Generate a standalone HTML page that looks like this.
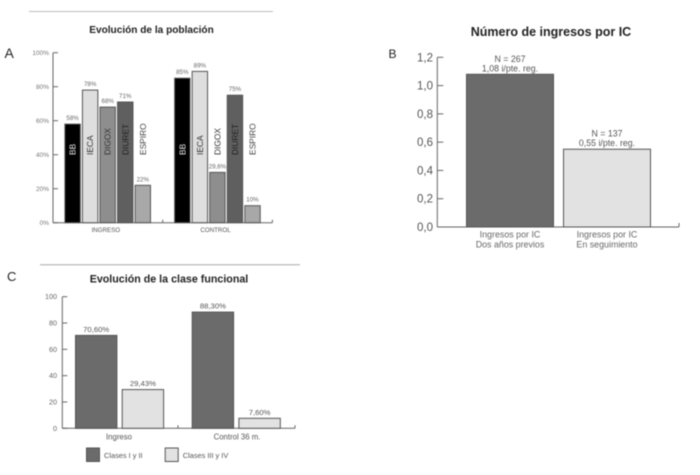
<!DOCTYPE html>
<html>
<head>
<meta charset="utf-8">
<style>
html,body{margin:0;padding:0;background:#fff;width:700px;height:475px;overflow:hidden}
svg{display:block;filter:blur(0.45px)}
text{font-family:"Liberation Sans",sans-serif}
</style>
</head>
<body>
<svg id="chart" xmlns="http://www.w3.org/2000/svg" width="700" height="475" viewBox="0 0 700 475"></svg>
<script>
/* Panel A data */
var popGroups = ['INGRESO', 'CONTROL'];
var popSeries = ['BB', 'IECA', 'DIGOX', 'DIURET', 'ESPIRO'];
var popIngreso = [58, 78, 68, 71, 22];
var popControl = [85, 89, 29.6, 75, 10];
var popIngresoLabels = ['58%', '78%', '68%', '71%', '22%'];
var popControlLabels = ['85%', '89%', '29,6%', '75%', '10%'];
var popTicks = [0, 20, 40, 60, 80, 100];
/* Panel B data */
var admCategories = [['Ingresos por IC', 'Dos años previos'], ['Ingresos por IC', 'En seguimiento']];
var admValues = [1.08, 0.55];
var admNotes = [['N = 267', '1,08 i/pte. reg.'], ['N = 137', '0,55 i/pte. reg.']];
var admTicks = [0, 0.2, 0.4, 0.6, 0.8, 1.0, 1.2];
/* Panel C data */
var classGroups = ['Ingreso', 'Control 36 m.'];
var classSeries = ['Clases I y II', 'Clases III y IV'];
var classLow = [70.6, 88.3];
var classHigh = [29.43, 7.6];
var classLowLabels = ['70,60%', '88,30%'];
var classHighLabels = ['29,43%', '7,60%'];
var classTicks = [0, 20, 40, 60, 80, 100];

var NS = 'http://www.w3.org/2000/svg';
var root = document.getElementById('chart');
function mk(tag, attrs, parent, txt) {
  var e = document.createElementNS(NS, tag);
  for (var k in attrs) e.setAttribute(k, attrs[k]);
  if (txt !== undefined) e.textContent = txt;
  (parent || root).appendChild(e);
  return e;
}
function label(parent, name, x, y, size, fill, anchor, str, weight) {
  var t = mk('text', {x: x, y: y, 'font-size': size, fill: fill, 'text-anchor': anchor, 'font-weight': weight || 'normal'}, parent, str);
  
  
  return t;
}
function bar(parent, name, x, y, w, h, fill, stroke) {
  var r = mk('rect', {x: x + 0.5, y: y, width: w - 1, height: h, fill: fill, stroke: stroke, 'stroke-width': 1}, parent);
  
  
  return r;
}
function line(parent, name, x1, y1, x2, y2, color, w) {
  var l = mk('line', {x1: x1, y1: y1, x2: x2, y2: y2, stroke: color, 'stroke-width': w || 1}, parent);
  
  
  return l;
}
function group(name) {
  var g = mk('g', {});
  
  
  return g;
}
var AX = '#666';

/* ---------- Panel A ---------- */
(function () {
  var g = group('panel-a-population-chart');
  var y0 = 222.7, yTop = 52.7, x0 = 53, groupW = 109.7;
  function y(v) { return y0 - (v / 100) * (y0 - yTop); }
  label(g, 'panel-a-letter', 4.5, 58, 14, '#222', 'start', 'A');
  line(g, 'panel-a-top-rule', 29, 11.5, 273, 11.5, '#bdbdbd', 1);
  label(g, 'panel-a-title', 151.5, 33, 10.1, '#222', 'middle', 'Evolución de la población', 'bold');
  line(g, 'panel-a-y-axis', x0, yTop, x0, y0, AX);
  line(g, 'panel-a-x-axis', x0, y0, x0 + 2 * groupW, y0, AX);
  popTicks.forEach(function (t) {
    line(g, 'panel-a-y-tick', x0, y(t), x0 + 5, y(t), AX);
    label(g, 'panel-a-y-tick-label', 49, y(t) + 2.5, 6.5, '#777', 'end', t + '%');
  });
  [1, 2].forEach(function (i) {
    line(g, 'panel-a-x-tick', x0 + i * groupW, y0, x0 + i * groupW, y0 - 3, AX);
  });
  var fills = ['#000000', '#dedede', '#8e8e8e', '#5f5f5f', '#a8a8a8'];
  var textFills = ['#e8e8e8', '#333', '#333', '#222', '#444'];
  var vals = [popIngreso, popControl];
  var labs = [popIngresoLabels, popControlLabels];
  popGroups.forEach(function (name, gi) {
    var gx = x0 + gi * groupW + 11.4;
    vals[gi].forEach(function (v, si) {
      var bx = gx + si * 17.55, bw = 16.4;
      bar(g, 'bar-' + name.toLowerCase() + '-' + popSeries[si].toLowerCase(), bx, y(v), bw, y0 - y(v), fills[si], '#555');
      label(g, 'bar-value-label', bx + bw / 2, y(v) - 4, 6.2, '#666', 'middle', labs[gi][si]);
      var cx = bx + bw / 2 + 3;
      var st = label(g, 'bar-series-label', cx, 155, 8.4, textFills[si], 'start', popSeries[si]);
      st.setAttribute('transform', 'rotate(-90 ' + cx + ' 155)');
    });
    label(g, 'panel-a-x-label', x0 + (gi + 0.5) * groupW - 2, 232, 6.2, '#555', 'middle', name);
  });
})();

/* ---------- Panel B ---------- */
(function () {
  var g = group('panel-b-admissions-chart');
  var y0 = 227, yTop = 57.3, x0 = 437.3, xEnd = 679;
  function y(v) { return y0 - (v / 1.2) * (y0 - yTop); }
  label(g, 'panel-b-letter', 388.5, 58, 12, '#222', 'start', 'B');
  label(g, 'panel-b-title', 551, 36, 12.5, '#222', 'middle', 'Número de ingresos por IC', 'bold');
  line(g, 'panel-b-y-axis', x0, yTop, x0, y0, AX);
  line(g, 'panel-b-x-axis', x0, y0, xEnd, y0, AX);
  line(g, 'panel-b-x-end-tick', xEnd, y0, xEnd, y0 - 4, AX);
  admTicks.forEach(function (t) {
    line(g, 'panel-b-y-tick', x0, y(t), x0 + 6, y(t), AX);
    label(g, 'panel-b-y-tick-label', 433, y(t) + 4, 11.5, '#555', 'end', t.toFixed(1).replace('.', ','));
  });
  var fills = ['#6b6b6b', '#e2e2e2'];
  admValues.forEach(function (v, i) {
    var bx = 466 + i * 97, bw = 88;
    bar(g, 'bar-admissions-' + (i + 1), bx, y(v), bw, y0 - y(v), fills[i], '#555');
    var cx = bx + bw / 2;
    label(g, 'bar-count-label', cx, y(v) - 12.5, 8.8, '#555', 'middle', admNotes[i][0]);
    label(g, 'bar-rate-label', cx, y(v) - 3, 8.8, '#555', 'middle', admNotes[i][1]);
    label(g, 'panel-b-x-label', cx, 237.5, 8.9, '#666', 'middle', admCategories[i][0]);
    label(g, 'panel-b-x-sublabel', cx, 247.5, 8.9, '#666', 'middle', admCategories[i][1]);
  });
})();

/* ---------- Panel C ---------- */
(function () {
  var g = group('panel-c-functional-class-chart');
  var y0 = 428.3, yTop = 296.7, x0 = 62.3, xEnd = 295, groupW = 115.7;
  function y(v) { return y0 - (v / 100) * (y0 - yTop); }
  label(g, 'panel-c-letter', 7, 281, 13, '#222', 'start', 'C');
  line(g, 'panel-c-top-rule', 40, 264.8, 300, 264.8, '#a8a8a8', 1);
  label(g, 'panel-c-title', 169, 282.5, 10.7, '#222', 'middle', 'Evolución de la clase funcional', 'bold');
  line(g, 'panel-c-y-axis', x0, yTop, x0, y0, AX);
  line(g, 'panel-c-x-axis', x0, y0, xEnd, y0, AX);
  line(g, 'panel-c-x-mid-tick', x0 + groupW, y0, x0 + groupW, y0 - 3, AX);
  line(g, 'panel-c-x-end-tick', xEnd, y0, xEnd, y0 - 3, AX);
  classTicks.forEach(function (t) {
    line(g, 'panel-c-y-tick', x0, y(t), x0 + 5, y(t), AX);
    label(g, 'panel-c-y-tick-label', 57, y(t) + 2.5, 7.2, '#666', 'end', String(t));
  });
  var fills = ['#6b6b6b', '#e2e2e2'];
  classGroups.forEach(function (name, gi) {
    var gx = x0 + 12.7 + gi * 116.7;
    [classLow[gi], classHigh[gi]].forEach(function (v, si) {
      var bx = gx + si * 46.7, bw = 42.4;
      bar(g, 'bar-' + (gi ? 'control' : 'ingreso') + '-class-' + (si + 1), bx, y(v), bw, y0 - y(v), fills[si], '#555');
      label(g, 'bar-value-label', bx + bw / 2, y(v) - 3.5, 7.7, '#555', 'middle', [classLowLabels, classHighLabels][si][gi]);
    });
    label(g, 'panel-c-x-label', gi ? 237 : 119, 439.5, 7.8, '#555', 'middle', name);
  });
  classSeries.forEach(function (name, i) {
    var lx = 86 + i * 78.7;
    var lg = mk('g', {}, g);
    
    
    bar(lg, 'legend-swatch', lx, 448, 14, 13.5, fills[i], '#555');
    label(lg, 'legend-label', lx + 18, 458, 7.4, '#555', 'start', name);
  });
})();
</script>
</body>
</html>
